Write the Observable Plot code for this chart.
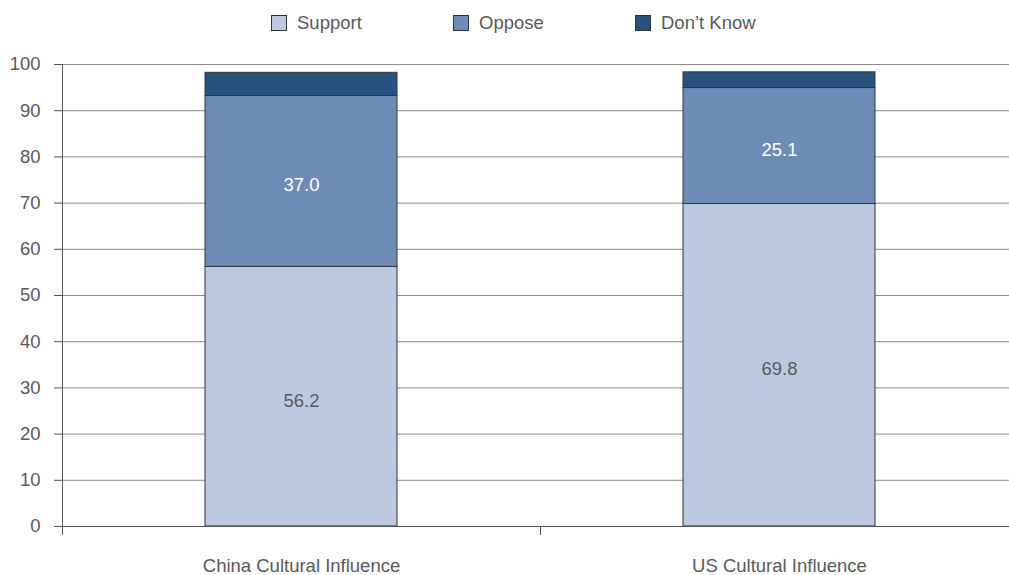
<!DOCTYPE html>
<html><head><meta charset="utf-8">
<script src="https://cdn.jsdelivr.net/npm/d3@7"></script>
<script src="https://cdn.jsdelivr.net/npm/@observablehq/plot@0.6"></script>
<style>
body{margin:0;background:#fff;font-family:"Liberation Sans",Arial,sans-serif;}
#legend{height:44px;position:relative;font-size:18.5px;color:#595959;}
.item{position:absolute;top:12px;display:flex;align-items:center;}
.sw{width:16px;height:16px;border:1px solid #333;margin-right:10px;box-sizing:border-box;}
svg{overflow:hidden;display:block}
</style></head><body>
<div id="legend"></div>
<div id="chart"></div>
<script>
const categories = ["China Cultural Influence", "US Cultural Influence"];
const series = ["Support", "Oppose", "Don\u2019t Know"];
const support = [56.2, 69.8];
const oppose = [37.0, 25.1];
const dontKnow = [5.0, 3.4];
const yTicks = [0,10,20,30,40,50,60,70,80,90,100];
const colors = ["#bccadf", "#6f8cb8", "#26537e"];
const labelColors = ["#595959", "#ffffff"];

const legendPos = [271, 453, 635];
const lg = document.getElementById("legend");
series.forEach((s,i)=>{
  const d=document.createElement("div");d.className="item";d.style.left=legendPos[i]+"px";
  d.innerHTML=`<div class="sw" style="background:${colors[i]}"></div><span>${s}</span>`;
  lg.appendChild(d);
});

const rows = [];
categories.forEach((c,i)=>{
  const vals=[support[i],oppose[i],dontKnow[i]];
  let acc=0;
  vals.forEach((v,k)=>{rows.push({i,k,series:series[k],v,y1:acc,y2:acc+v});acc+=v;});
});

const chart = Plot.plot({
  width: 1009, height: 531,
  marginLeft: 62, marginRight: -9, marginTop: 20, marginBottom: 49,
  style: {fontFamily: '"Liberation Sans", Arial, sans-serif', fontSize: "18.5px", color: "#595959", background: "#fff"},
  x: {type: "linear", domain: [0, categories.length], axis: null},
  y: {type: "linear", domain: [0, 100], axis: null},
  marks: [
    Plot.ruleY(yTicks.filter(t=>t>0), {stroke: "#8c8c8c", strokeWidth: 1}),
    Plot.rectY(rows, {x1: d=>d.i, x2: d=>d.i+1, y1: "y1", y2: "y2", fill: d=>colors[d.k], stroke: "#333", strokeWidth: 1, insetLeft: 143, insetRight: 143}),
    Plot.text(rows.filter(d=>d.k<2), {x: d=>d.i+0.5, y: d=>(d.y1+d.y2)/2, text: d=>d.v.toFixed(1), fill: d=>labelColors[d.k], fontSize: 18.5, dy: 4}),
    Plot.ruleY([0], {stroke: "#555", strokeWidth: 1}),
    Plot.axisY(yTicks, {tickSize: 8, tickPadding: 14, stroke: "#555", fill: "#595959", fontSize: 18.5, label: null}),
    Plot.ruleX([0], {y1: 0, y2: 100, stroke: "#555"}),
    Plot.axisX(d3.range(categories.length+1), {tickSize: 9, tickFormat: () => "", stroke: "#555", label: null}),
    Plot.text(categories, {x: (d,i)=>i+0.5, y: 0, text: d=>d, dy: 40, fill: "#595959", fontSize: 18.5})
  ]
});
document.getElementById("chart").appendChild(chart);
</script>
</body></html>
